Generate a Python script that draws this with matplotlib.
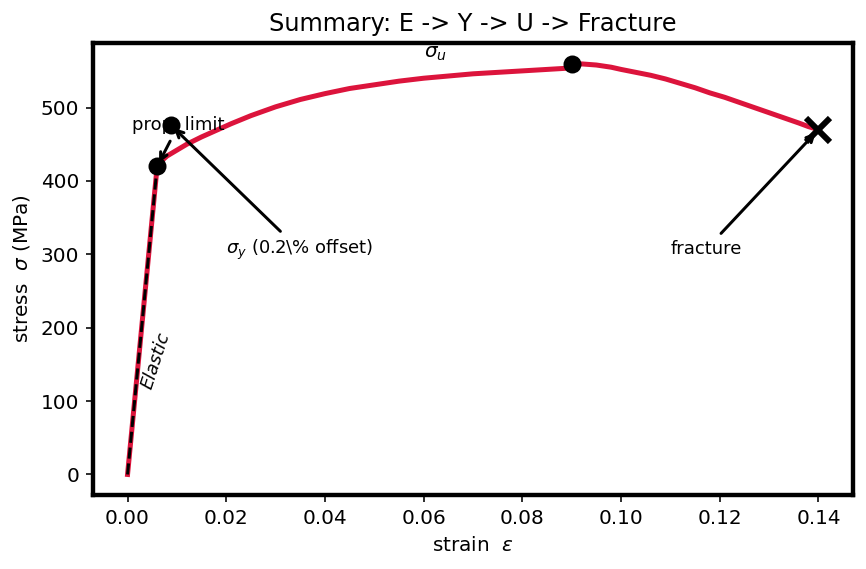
"""Engineering stress-strain summary chart."""

import matplotlib
matplotlib.use("Agg")
import matplotlib.pyplot as plt

# elastic region
elastic_strain = [0.0, 0.006]
elastic_stress = [0.0, 420.0]

# strain hardening (prop. limit -> UTS)
hard_strain = [0.006, 0.007, 0.008, 0.010, 0.012, 0.015, 0.018, 0.021,
               0.025, 0.030, 0.035, 0.040, 0.045, 0.050, 0.055, 0.060,
               0.065, 0.070, 0.075, 0.080, 0.085, 0.090]
hard_stress = [420, 428, 434, 442, 450, 460, 469, 478, 489, 501, 511, 519,
               526, 531, 536, 540, 543, 546, 548, 550, 552, 554]

# necking (UTS -> fracture)
neck_strain = [0.090, 0.092, 0.095, 0.098, 0.100, 0.103, 0.106, 0.109,
               0.112, 0.115, 0.118, 0.121, 0.124, 0.127, 0.130, 0.133,
               0.136, 0.138, 0.140]
neck_stress = [560, 559.5, 558, 555, 552, 548, 544, 539, 533, 527, 520, 514,
               507, 500, 493, 486, 479, 474, 470]

prop_pt = (0.006, 420)
yield_pt = (0.0088, 476)
uts_pt = (0.090, 560)
frac_pt = (0.140, 470)

crimson = "#dc143c"

fig, ax = plt.subplots(figsize=(866 / 144, 569 / 144), dpi=144)
fig.subplots_adjust(left=93 / 866, right=853 / 866, top=1 - 43 / 569,
                    bottom=1 - 495 / 569)

ax.plot(elastic_strain, elastic_stress, color=crimson, lw=2.5)
ax.plot(elastic_strain, elastic_stress, "k--", lw=1.5)
ax.plot(hard_strain, hard_stress, color=crimson, lw=2.5)
ax.plot(neck_strain, neck_stress, color=crimson, lw=2.5)

ax.plot(*prop_pt, "ko", ms=8)
ax.plot(*uts_pt, "ko", ms=8)
ax.plot(*frac_pt, "kx", ms=12, mew=3)

ax.annotate("prop. limit", xy=prop_pt, xytext=(0.001, 470), fontsize=9,
            arrowprops=dict(arrowstyle="->", color="k", lw=1.5))
ax.plot(*yield_pt, "ko", ms=8)
ax.annotate(r"$\sigma_y$ (0.2\% offset)", xy=yield_pt, xytext=(0.02, 300),
            fontsize=9, arrowprops=dict(arrowstyle="->", color="k", lw=1.5))
ax.text(0.06, 568, r"$\sigma_u$", fontsize=10)
ax.annotate("fracture", xy=frac_pt, xytext=(0.11, 300), fontsize=9,
            arrowprops=dict(arrowstyle="->", color="k", lw=1.5))
ax.text(0.0057, 155, "Elastic", rotation=72, style="italic", fontsize=9,
        ha="center", va="center")

ax.set_xlabel(r"strain  $\varepsilon$")
ax.set_ylabel(r"stress  $\sigma$ (MPa)")
ax.set_title("Summary: E -> Y -> U -> Fracture")
for s in ax.spines.values():
    s.set_linewidth(2.2)

plt.savefig("out.png", dpi=144)
